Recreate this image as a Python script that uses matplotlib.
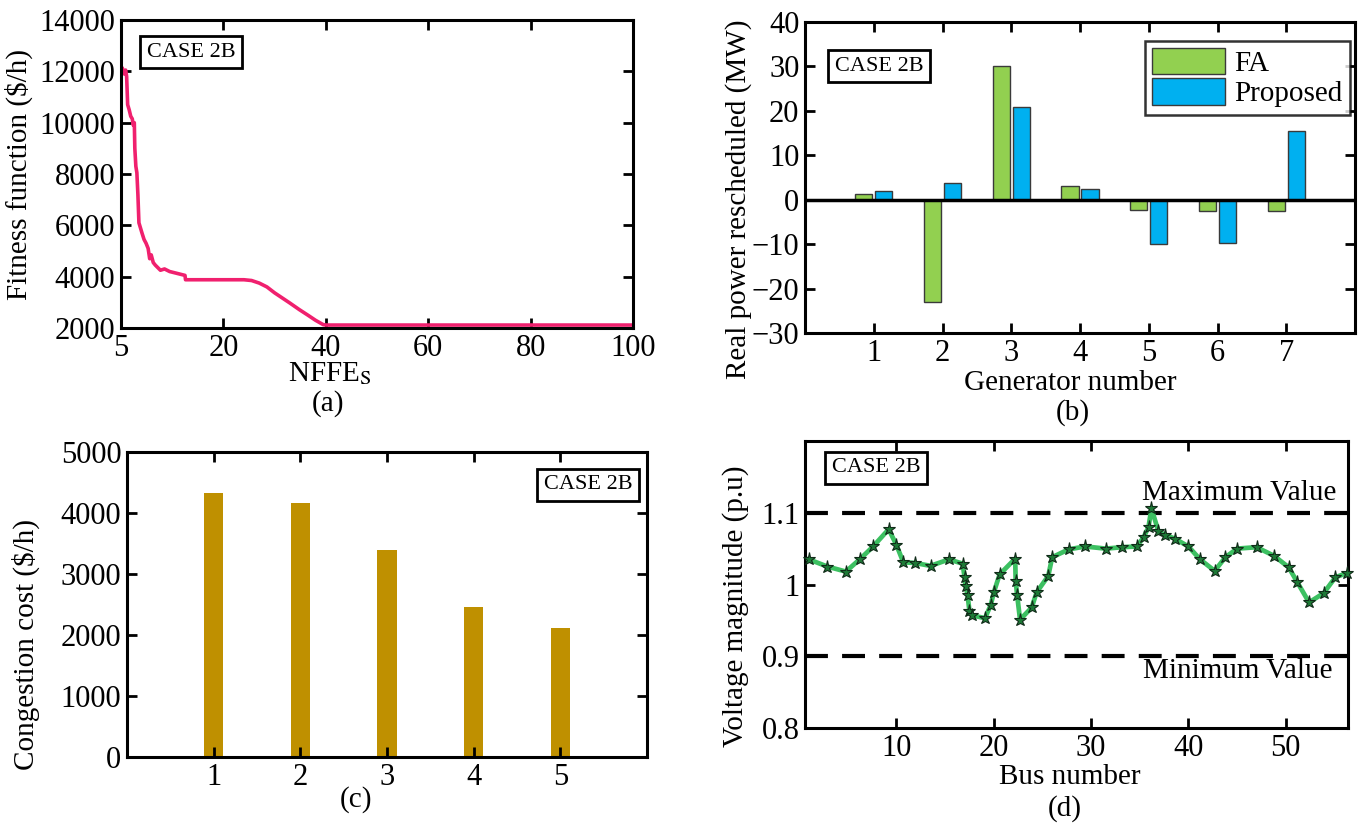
import matplotlib
matplotlib.use("Agg")
import matplotlib.pyplot as plt
import numpy as np

plt.rcParams['font.family'] = ['Liberation Serif', 'DejaVu Serif']
plt.rcParams['mathtext.fontset'] = 'stix'

# (a) convergence of the fitness function
nffe = [0.3, 0.6, 0.9, 1.1, 1.3, 1.6, 1.9, 2.2, 2.4, 2.6, 2.7, 2.9, 3.1, 3.3, 3.5,
        3.8, 4.1, 4.5, 4.9, 5.3, 5.6, 5.9, 6.3, 6.7, 7.2, 7.7, 8.5, 9.5, 10.5,
        11.5, 12.5, 12.6, 16, 20, 24, 25.5, 27, 28.5, 30, 31.5, 33, 34.8, 36.5,
        38, 39.5, 40, 50, 60, 70, 80, 90, 100]
fitness = [12100, 11900, 12050, 11800, 10700, 10500, 10250, 10150, 9900, 10000,
           9000, 8300, 8050, 7200, 6100, 5900, 5700, 5450, 5300, 5100, 4700, 4850,
           4550, 4450, 4350, 4250, 4300, 4200, 4150, 4100, 4050, 3880, 3880, 3880,
           3880, 3850, 3750, 3600, 3370, 3170, 2970, 2720, 2500, 2300, 2130, 2115,
           2115, 2115, 2115, 2115, 2115, 2115]

# (b) real power rescheduled per generator
generators = [1, 2, 3, 4, 5, 6, 7]
fa_mw = [1.3, -23.0, 30.2, 3.0, -2.3, -2.6, -2.6]
proposed_mw = [1.9, 3.8, 20.9, 2.3, -9.9, -9.7, 15.5]

# (c) congestion cost
cases = [1, 2, 3, 4, 5]
congestion_cost = [4330, 4170, 3390, 2460, 2120]

# (d) bus voltage profile
bus_pos = [1.0, 2.9, 4.8, 6.3, 7.6, 9.2, 10.0, 10.7, 11.9, 13.5, 15.4, 16.8, 17.0,
           17.1, 17.3, 17.5, 17.8, 19.1, 19.7, 20.0, 20.6, 22.2, 22.25, 22.4, 22.7,
           23.9, 24.4, 25.6, 26.0, 27.7, 29.4, 31.5, 33.2, 34.7, 35.4, 35.9, 36.2,
           36.9, 37.6, 38.6, 40.0, 41.2, 42.7, 43.8, 45.0, 47.0, 48.8, 50.3, 51.2,
           52.4, 53.9, 55.1, 56.3]
voltage = [1.035, 1.025, 1.018, 1.036, 1.053, 1.077, 1.055, 1.031, 1.030, 1.026,
           1.035, 1.029, 1.010, 0.998, 0.986, 0.963, 0.957, 0.953, 0.972, 0.989,
           1.014, 1.036, 1.005, 0.985, 0.951, 0.968, 0.989, 1.012, 1.038, 1.049,
           1.053, 1.050, 1.052, 1.053, 1.066, 1.080, 1.106, 1.075, 1.069, 1.064,
           1.053, 1.035, 1.019, 1.038, 1.050, 1.052, 1.040, 1.024, 1.003, 0.975,
           0.988, 1.010, 1.016]
v_max, v_min = 1.1, 0.9

TICK_FS = 22
LABEL_FS = 21


def style_axes(ax):
    for s in ax.spines.values():
        s.set_linewidth(2.2)
    ax.tick_params(direction='in', length=7, width=2, top=True, right=True,
                   labelsize=TICK_FS, pad=4)


def case_box(ax, x, y):
    ax.text(x, y, 'CASE 2B', transform=ax.transAxes, fontsize=16,
            ha='center', va='center', zorder=10,
            bbox=dict(boxstyle='square,pad=0.3', fc='white', ec='black', lw=2))


W, H = 1366, 831
fig = plt.figure(figsize=(W / 100, H / 100), dpi=100)


def px_axes(left, top, right, bottom):
    return fig.add_axes([left / W, 1 - bottom / H, (right - left) / W, (bottom - top) / H])


# ---- (a)
ax = px_axes(121, 20, 633, 328)
ax.plot(nffe, fitness, color='#f0206e', lw=2.6)
ax.set_xlim(0, 100)
ax.set_ylim(2000, 14000)
ax.set_xticks([0, 20, 40, 60, 80, 100])
ax.set_xticklabels(['5', '20', '40', '60', '80', '100'])
ax.set_yticks(np.arange(2000, 14001, 2000))
style_axes(ax)
case_box(ax, 0.137, 0.896)
ax.text(-0.2, 0.5, 'Fitness function ($/h)', transform=ax.transAxes,
        rotation=90, ha='center', va='center', fontsize=LABEL_FS)
ax.text(0.408, -0.148, r'NFFE$_{\mathrm{S}}$', transform=ax.transAxes,
        ha='center', va='center', fontsize=LABEL_FS)
ax.text(0.404, -0.245, '(a)', transform=ax.transAxes,
        ha='center', va='center', fontsize=LABEL_FS)

# ---- (b)
ax = px_axes(805, 22, 1355, 333)
g = np.array(generators)
ax.bar(g - 0.145, fa_mw, width=0.25, color='#92d050', edgecolor='#3a3a3a', lw=1,
       label='FA', zorder=3)
ax.bar(g + 0.145, proposed_mw, width=0.25, color='#00b0f0', edgecolor='#3a3a3a', lw=1,
       label='Proposed', zorder=3)
ax.axhline(0, color='black', lw=2.5, zorder=4)
ax.set_xlim(0, 8)
ax.set_ylim(-30, 40)
ax.set_xticks(generators)
ax.set_yticks(np.arange(-30, 41, 10))
style_axes(ax)
case_box(ax, 0.135, 0.858)
leg = ax.legend(loc='upper right', bbox_to_anchor=(0.99, 0.94), fontsize=LABEL_FS,
                frameon=True, fancybox=False, handlelength=2.5, handleheight=1.0,
                labelspacing=0.05, borderpad=0.25, handletextpad=0.3,
                borderaxespad=0.0)
leg.get_frame().set_edgecolor('black')
leg.get_frame().set_linewidth(1.8)
ax.text(-0.12, 0.43, 'Real power rescheduled (MW)', transform=ax.transAxes,
        rotation=90, ha='center', va='center', fontsize=LABEL_FS)
ax.text(0.482, -0.16, 'Generator number', transform=ax.transAxes,
        ha='center', va='center', fontsize=LABEL_FS)
ax.text(0.487, -0.255, '(b)', transform=ax.transAxes,
        ha='center', va='center', fontsize=LABEL_FS)

# ---- (c)
ax = px_axes(127, 452, 647, 757)
ax.bar(cases, congestion_cost, width=0.22, color='#bf9000')
ax.set_xlim(0, 6)
ax.set_ylim(0, 5000)
ax.set_xticks(cases)
ax.set_yticks(np.arange(0, 5001, 1000))
style_axes(ax)
case_box(ax, 0.887, 0.892)
ax.text(-0.195, 0.37, 'Congestion cost ($/h)', transform=ax.transAxes,
        rotation=90, ha='center', va='center', fontsize=LABEL_FS)
ax.text(0.44, -0.14, '(c)', transform=ax.transAxes,
        ha='center', va='center', fontsize=LABEL_FS)

# ---- (d)
ax = px_axes(805, 441, 1348, 728)
ax.axhline(v_max, color='black', lw=3, ls=(0, (5.5, 3.4)))
ax.axhline(v_min, color='black', lw=3, ls=(0, (5.5, 3.4)))
ax.plot(bus_pos, voltage, color='#3cc061', lw=3.4, marker='*', ms=9.5,
        mfc='#1d7a36', mec='#102a18', mew=0.8, clip_on=False, zorder=5)
ax.set_xlim(0.6, 56.4)
ax.set_ylim(0.8, 1.2)
ax.set_xticks([10, 20, 30, 40, 50])
ax.set_yticks([0.8, 0.9, 1.0, 1.1])
ax.set_yticklabels(['0.8', '0.9', '1', '1.1'])
style_axes(ax)
case_box(ax, 0.131, 0.906)
ax.text(55.2, 1.128, 'Maximum Value', ha='right', va='center', fontsize=LABEL_FS)
ax.text(54.8, 0.879, 'Minimum Value', ha='right', va='center', fontsize=LABEL_FS)
ax.text(-0.128, 0.425, 'Voltage magnitude (p.u)', transform=ax.transAxes,
        rotation=90, ha='center', va='center', fontsize=LABEL_FS)
ax.text(0.488, -0.17, 'Bus number', transform=ax.transAxes,
        ha='center', va='center', fontsize=LABEL_FS)
ax.text(0.479, -0.282, '(d)', transform=ax.transAxes,
        ha='center', va='center', fontsize=LABEL_FS)

fig.savefig('out.png', dpi=100)
